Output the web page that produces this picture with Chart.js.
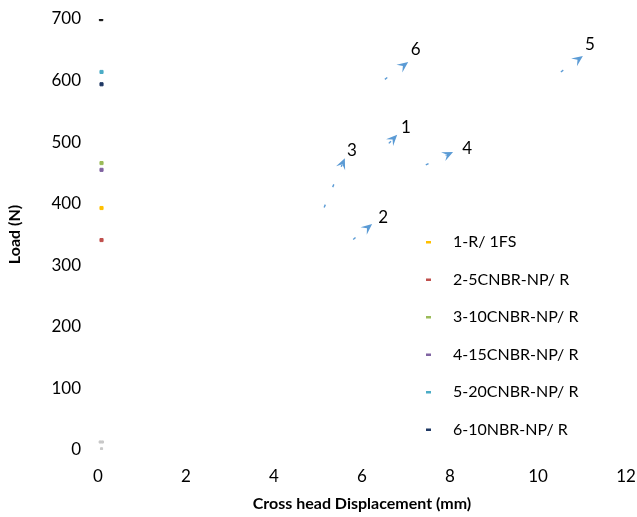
<!DOCTYPE html>
<html>
<head>
<meta charset="utf-8">
<script src="https://cdn.jsdelivr.net/npm/chart.js@4.4.0/dist/chart.umd.min.js"></script>
<style>
  html, body { margin: 0; padding: 0; background: #fff; }
  #wrap { width: 637px; height: 517px; }
</style>
</head>
<body>
<div id="wrap"><canvas id="chart" width="637" height="517"></canvas></div>
<script>
// Load vs cross head displacement - peak marks near x=0 plus numbered arrows
const seriesNames = ["1-R/ 1FS", "2-5CNBR-NP/ R", "3-10CNBR-NP/ R", "4-15CNBR-NP/ R", "5-20CNBR-NP/ R", "6-10NBR-NP/ R"];
const seriesColors = ["#FFC000", "#C0504D", "#9BBB59", "#8064A2", "#4BACC6", "#1F3864"];
const peakX = [0.08, 0.08, 0.08, 0.08, 0.08, 0.08];
const peakLoad = [393, 341, 466, 455, 614, 594];

// extra unlabelled marks
const topMarkX = [0.07];
const topMarkY = [700];
const zeroMarkX = [0.05, 0.1, 0.08];
const zeroMarkY = [13, 13, 2];

// arrow annotations (data units): tail -> head, label position
const arrowLabels = ["1", "2", "3", "4", "5", "6"];
const arrowTailX = [6.61, 5.80, 5.14, 7.45, 10.52, 6.52];
const arrowTailY = [498, 342, 394, 463, 614, 602];
const arrowHeadX = [6.80, 6.23, 5.61, 8.07, 11.02, 7.05];
const arrowHeadY = [512, 367, 474, 484, 640, 630];
const labelX = [7.0, 6.48, 5.77, 8.39, 11.18, 7.22];
const labelY = [523, 377, 487, 490, 658, 650];

const xTicks = [0, 2, 4, 6, 8, 10, 12];
const yTicks = [0, 100, 200, 300, 400, 500, 600, 700];

const FONT = "Lato, 'Open Sans', sans-serif";

const datasets = seriesNames.map((name, i) => ({
  label: name,
  data: [{ x: peakX[i], y: peakLoad[i] }],
  borderColor: seriesColors[i],
  backgroundColor: seriesColors[i],
  pointStyle: "rect",
  pointRadius: 2.2,
  showLine: false
}));
datasets.push({
  label: "",
  data: topMarkX.map((x, i) => ({ x: x, y: topMarkY[i] })),
  borderColor: "#111", backgroundColor: "#111",
  pointStyle: "rect", pointRadius: 2.4, showLine: false
});
datasets.push({
  label: "",
  data: zeroMarkX.map((x, i) => ({ x: x, y: zeroMarkY[i] })),
  borderColor: "#c8c8c8", backgroundColor: "#c8c8c8",
  pointStyle: "rect", pointRadius: 1.5, showLine: false
});

// arrows + labels
const arrowPlugin = {
  id: "arrows",
  afterDatasetsDraw(chart) {
    const ctx = chart.ctx, xs = chart.scales.x, ys = chart.scales.y;
    ctx.save();
    arrowLabels.forEach((lab, i) => {
      const x0 = xs.getPixelForValue(arrowTailX[i]), y0 = ys.getPixelForValue(arrowTailY[i]);
      const x1 = xs.getPixelForValue(arrowHeadX[i]), y1 = ys.getPixelForValue(arrowHeadY[i]);
      const ang = Math.atan2(y1 - y0, x1 - x0);
      const hl = 12;
      // dashed shaft
      ctx.strokeStyle = "#5B9BD5";
      ctx.lineWidth = 1.4;
      ctx.setLineDash([3, 19]);
      ctx.beginPath();
      ctx.moveTo(x0, y0);
      ctx.lineTo(x1 - Math.cos(ang) * hl * 0.6, y1 - Math.sin(ang) * hl * 0.6);
      ctx.stroke();
      ctx.setLineDash([]);
      // stealth head
      ctx.fillStyle = "#5B9BD5";
      ctx.beginPath();
      ctx.moveTo(x1, y1);
      ctx.lineTo(x1 - Math.cos(ang - 0.42) * hl, y1 - Math.sin(ang - 0.42) * hl);
      ctx.lineTo(x1 - Math.cos(ang) * hl * 0.55, y1 - Math.sin(ang) * hl * 0.55);
      ctx.lineTo(x1 - Math.cos(ang + 0.42) * hl, y1 - Math.sin(ang + 0.42) * hl);
      ctx.closePath();
      ctx.fill();
      // number
      ctx.fillStyle = "#000";
      ctx.font = "17px " + FONT;
      ctx.textAlign = "center";
      ctx.textBaseline = "middle";
      ctx.fillText(lab, xs.getPixelForValue(labelX[i]), ys.getPixelForValue(labelY[i]));
    });
    ctx.restore();
  }
};

// legend drawn inside the plot area
const legendPlugin = {
  id: "innerLegend",
  afterDraw(chart) {
    const ctx = chart.ctx;
    ctx.save();
    ctx.font = "16px " + FONT;
    ctx.textBaseline = "middle";
    ctx.textAlign = "left";
    seriesNames.forEach((name, i) => {
      const y = 242 + i * 37.5;
      ctx.fillStyle = seriesColors[i];
      ctx.fillRect(426, y - 1, 5, 2.5);
      ctx.fillStyle = "#000";
      ctx.fillText(name, 453, y);
    });
    ctx.restore();
  }
};

new Chart(document.getElementById("chart"), {
  type: "scatter",
  data: { datasets: datasets },
  plugins: [arrowPlugin, legendPlugin],
  options: {
    responsive: false,
    animation: false,
    layout: { padding: { left: 0, right: 11, top: 19, bottom: 0 } },
    plugins: { legend: { display: false }, tooltip: { enabled: false } },
    scales: {
      x: {
        type: "linear", min: 0, max: 12,
        afterBuildTicks: s => { s.ticks = xTicks.map(v => ({ value: v })); },
        afterFit: s => { s.height = 67; s.paddingLeft = 0; s.paddingRight = 0; },
        grid: { display: false, drawTicks: false },
        border: { display: false },
        ticks: { color: "#000", font: { family: FONT, size: 17 }, padding: 16 },
        title: { display: true, text: "Cross head Displacement (mm)", color: "#000",
                 font: { family: FONT, size: 16, weight: "bold" }, padding: { top: 9 } }
      },
      y: {
        type: "linear", min: 0, max: 700,
        afterBuildTicks: s => { s.ticks = yTicks.map(v => ({ value: v })); },
        afterFit: s => { s.width = 98; s.paddingTop = 0; s.paddingBottom = 0; },
        grid: { display: false, drawTicks: false },
        border: { display: false },
        ticks: { color: "#000", font: { family: FONT, size: 17 }, padding: 17 },
        title: { display: true, text: "Load (N)", color: "#000",
                 font: { family: FONT, size: 16, weight: "bold" }, padding: { top: 5, bottom: 0 } }
      }
    }
  }
});
</script>
</body>
</html>
